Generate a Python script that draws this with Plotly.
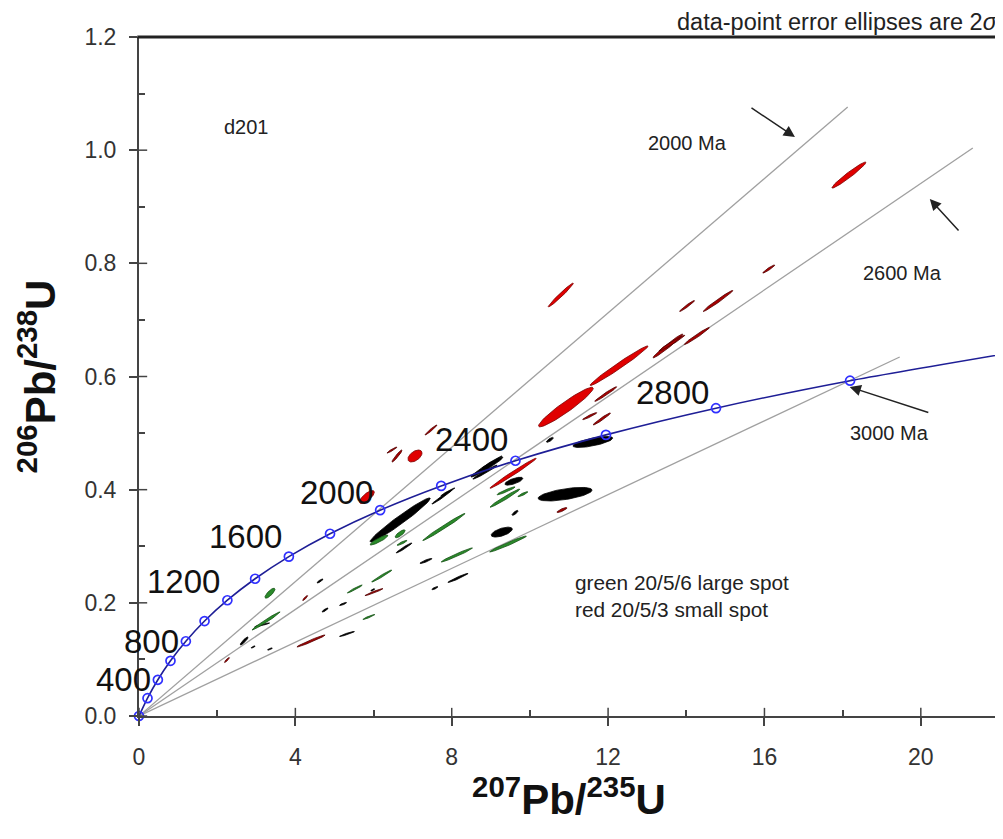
import numpy as np
import plotly.graph_objects as go

# ---- concordia (age markers every 200 Ma) ----
conc_age = [0, 200, 400, 600, 800, 1000, 1200, 1400, 1600, 1800, 2000, 2200, 2400, 2600, 2800, 3000, 3200]
conc_x = [0.0, 0.2177, 0.4828, 0.8056, 1.1987, 1.6774, 2.2603, 2.970, 3.834, 4.887, 6.169, 7.730, 9.630, 11.945, 14.76, 18.19, 22.37]
conc_y = [0.0, 0.0315, 0.0640, 0.0975, 0.1321, 0.1678, 0.2046, 0.2426, 0.2817, 0.3221, 0.3638, 0.4067, 0.4511, 0.4968, 0.5440, 0.5926, 0.6427]
label_ages = [400, 800, 1200, 1600, 2000, 2400, 2800]

# ---- reference (discordia) lines from origin: end points ----
ref_x_end = [18.13, 21.33, 19.46]
ref_y_end = [1.0764, 1.0039, 0.6345]

# ---- axis ticks ----
x_major = [0, 4, 8, 12, 16, 20]
x_minor = [2, 6, 10, 14, 18]
y_major = [0, 0.2, 0.4, 0.6, 0.8, 1.0, 1.2]
y_minor = [0.1, 0.3, 0.5, 0.7, 0.9, 1.1]

# ---- error ellipses: centre, half-extent x, half-extent y, correlation, group ----
ell_x = [18.16, 10.92, 12.28, 10.79, 9.57, 5.83, 7.06,
         16.11, 14.02, 14.81, 14.27, 13.53, 13.63, 11.94, 11.53, 11.84, 6.47, 6.60, 7.47, 10.82, 6.01, 4.40, 2.25, 4.25,
         6.68, 8.90, 8.85, 9.03, 7.75, 7.90, 9.28, 10.9, 11.61, 10.51, 9.59, 9.62, 6.78, 7.34, 8.16, 7.57, 4.63, 4.76, 5.22, 5.32, 3.15, 2.69, 3.35, 2.92, 5.98,
         6.14, 6.68, 6.73, 7.80, 8.13, 6.21, 5.52, 5.88, 9.44, 9.36, 9.39, 9.82, 3.35, 3.25]
ell_y = [0.956, 0.546, 0.619, 0.744, 0.429, 0.387, 0.4595,
         0.790, 0.7246, 0.7335, 0.6716, 0.654, 0.659, 0.569, 0.530, 0.525, 0.470, 0.4595, 0.5055, 0.364, 0.219, 0.1326, 0.099, 0.2085,
         0.3464, 0.440, 0.431, 0.449, 0.387, 0.396, 0.325, 0.392, 0.4843, 0.488, 0.415, 0.359, 0.297, 0.274, 0.244, 0.226, 0.2386, 0.1873, 0.198, 0.145, 0.161, 0.1326, 0.1184, 0.122, 0.223,
         0.311, 0.322, 0.306, 0.334, 0.2846, 0.2474, 0.2245, 0.175, 0.304, 0.385, 0.398, 0.392, 0.217, 0.168]
ell_sx = [0.435, 0.70, 0.74, 0.32, 0.59, 0.19, 0.18,
          0.153, 0.19, 0.38, 0.32, 0.38, 0.33, 0.28, 0.18, 0.22, 0.128, 0.128, 0.153, 0.128, 0.23, 0.36, 0.064, 0.064,
          0.77, 0.41, 0.31, 0.256, 0.256, 0.18, 0.27, 0.69, 0.51, 0.09, 0.23, 0.077, 0.2, 0.153, 0.256, 0.077, 0.077, 0.077, 0.09, 0.19, 0.19, 0.1, 0.06, 0.05, 0.05,
          0.23, 0.128, 0.128, 0.54, 0.40, 0.256, 0.19, 0.153, 0.47, 0.38, 0.23, 0.128, 0.128, 0.36]
ell_sy = [0.023, 0.035, 0.035, 0.021, 0.0265, 0.0115, 0.0106,
          0.0071, 0.0097, 0.0186, 0.015, 0.021, 0.014, 0.013, 0.0062, 0.0106, 0.0053, 0.0106, 0.0088, 0.0044, 0.0062, 0.0106, 0.0044, 0.0044,
          0.039, 0.0177, 0.0124, 0.0106, 0.0124, 0.007, 0.0088, 0.012, 0.0097, 0.0044, 0.007, 0.0044, 0.0088, 0.0044, 0.008, 0.0027, 0.0035, 0.0035, 0.0027, 0.0044, 0.0035, 0.007, 0.002, 0.002, 0.002,
          0.0088, 0.007, 0.0044, 0.0239, 0.0124, 0.0106, 0.007, 0.0044, 0.0141, 0.016, 0.007, 0.0044, 0.0088, 0.016]
ell_rho = [0.97, 0.95, 0.985, 0.98, 0.99, 0.75, 0.5,
           0.95, 0.97, 0.985, 0.98, 0.98, 0.98, 0.98, 0.95, 0.97, 0.95, 0.95, 0.97, 0.85, 0.97, 0.98, 0.9, 0.9,
           0.975, 0.97, 0.98, 0.99, 0.985, 0.98, 0.6, 0.6, 0.7, 0.8, 0.7, 0.8, 0.97, 0.9, 0.97, 0.8, 0.85, 0.85, 0.85, 0.95, 0.95, 0.9, 0.8, 0.8, 0.8,
           0.9, 0.8, 0.9, 0.99, 0.98, 0.98, 0.97, 0.95, 0.98, 0.98, 0.95, 0.9, 0.8, 0.985]
ell_group = ["r"] * 7 + ["d"] * 17 + ["k"] * 25 + ["g"] * 14

group_style = {
    "r": ("#e00000", "#7a0000"),
    "d": ("#a80000", "#500000"),
    "k": ("#000000", "#000000"),
    "g": ("#2a8a2a", "#145214"),
}

FONT = "Arial, Liberation Sans, sans-serif"
AX = "#444"
fig = go.Figure()

# reference lines
for xe, ye in zip(ref_x_end, ref_y_end):
    fig.add_trace(go.Scatter(x=[0, xe], y=[0, ye], mode="lines",
                             line=dict(color="#a0a0a0", width=1.3), hoverinfo="skip"))

# ellipses
t = np.linspace(0, 2 * np.pi, 72)
for g, (fc, lc) in group_style.items():
    xs, ys = [], []
    for cx, cy, sx, sy, r, gg in zip(ell_x, ell_y, ell_sx, ell_sy, ell_rho, ell_group):
        if gg != g:
            continue
        ex = cx + sx * np.cos(t)
        ey = cy + sy * (r * np.cos(t) + np.sqrt(1 - r * r) * np.sin(t))
        xs += list(ex) + [None]
        ys += list(ey) + [None]
    fig.add_trace(go.Scatter(x=xs, y=ys, mode="lines", fill="toself", fillcolor=fc,
                             line=dict(color=lc, width=0.8), hoverinfo="skip"))

# concordia
fig.add_trace(go.Scatter(x=conc_x, y=conc_y, mode="lines",
                         line=dict(color="#1e1e96", width=1.6, shape="spline", smoothing=0.6),
                         hoverinfo="skip"))
fig.add_trace(go.Scatter(x=conc_x, y=conc_y, mode="markers", cliponaxis=False,
                         marker=dict(symbol="circle-open", size=9, color="#3030ff", line=dict(width=1.7)),
                         hoverinfo="skip"))

# age labels
yshifts = [0, 0, 19, 20, 18, 21, 16]
for a, ys in zip(label_ages, yshifts):
    i = conc_age.index(a)
    fig.add_annotation(x=conc_x[i], y=conc_y[i], text=str(a), showarrow=False,
                       xanchor="right", yanchor="middle", xshift=-5, yshift=ys,
                       font=dict(family=FONT, size=33, color="#111"))

# text annotations
def txt(x, y, s, size=20, anchor="center"):
    fig.add_annotation(x=x, y=y, text=s, showarrow=False, xanchor=anchor, yanchor="middle",
                       font=dict(family=FONT, size=size, color="#222"))

txt(14.02, 1.0127, "2000 Ma")
txt(19.54, 0.783, "2600 Ma")
txt(19.21, 0.5002, "3000 Ma")
txt(2.74, 1.041, "d201")
txt(11.10, 0.2368, "green 20/5/6 large spot", size=20.8, anchor="left")
txt(11.10, 0.189, "red 20/5/3 small spot", size=20.8, anchor="left")

fig.add_annotation(xref="paper", yref="paper", x=1.001, y=1.0225, xanchor="right", yanchor="middle",
                   text="data-point error ellipses are 2<i>σ</i>", showarrow=False,
                   font=dict(family=FONT, size=23.5, color="#222"))

# arrows
for (hx, hy, tx, ty) in [(16.78, 1.0233, 15.63, 1.0764), (20.23, 0.9137, 21.0, 0.8554), (18.18, 0.5815, 20.23, 0.5355)]:
    fig.add_annotation(x=hx, y=hy, ax=tx, ay=ty, xref="x", yref="y", axref="x", ayref="y",
                       text="", showarrow=True, arrowhead=2, arrowsize=1.5, arrowwidth=1.5,
                       arrowcolor="#222")

# inner half of major ticks (ticks cross the axis line)
for v in x_major:
    fig.add_shape(type="line", xref="x", yref="y domain", x0=v, x1=v, y0=0, y1=0.012,
                  line=dict(color=AX, width=1.5))
for v in y_major:
    fig.add_shape(type="line", xref="x domain", yref="y", x0=0, x1=0.0095, y0=v, y1=v,
                  line=dict(color=AX, width=1.5))
# frame: heavy top edge, light right edge
fig.add_shape(type="line", xref="paper", yref="paper", x0=-0.002, x1=1, y0=1, y1=1,
              line=dict(color="#222", width=3))
fig.add_shape(type="line", xref="paper", yref="paper", x0=0.998, x1=0.998, y0=0, y1=1,
              line=dict(color="#777", width=1.5))

axis_common = dict(showgrid=False, zeroline=False, showline=True, linewidth=2, linecolor=AX,
                   mirror=False, ticks="outside", ticklen=8, tickwidth=1.5, tickcolor=AX,
                   automargin=False,
                   tickfont=dict(family=FONT, size=23, color="#333"))

# page body has an 8 px margin: figure is sized/offset so the plot sits where the reference has it
fig.update_layout(
    width=995, height=823,
    margin=dict(l=131, r=4, t=29, b=115, autoexpand=False),
    paper_bgcolor="white", plot_bgcolor="white",
    showlegend=False,
    xaxis=dict(range=[0, 22], tickvals=x_major, ticklabelstandoff=11,
               minor=dict(tickvals=x_minor, ticks="inside", ticklen=6, tickwidth=1.5, tickcolor=AX),
               title=dict(text="<b><sup>207</sup>Pb/<sup>235</sup>U</b>", standoff=12,
                          font=dict(family=FONT, size=42, color="#111")),
               **axis_common),
    yaxis=dict(range=[0, 1.2], tickvals=y_major, tickformat=".1f", ticklabelstandoff=8,
               minor=dict(tickvals=y_minor, ticks="inside", ticklen=6, tickwidth=1.5, tickcolor=AX),
               title=dict(text="<b><sup>206</sup>Pb/<sup>238</sup>U</b>", standoff=16,
                          font=dict(family=FONT, size=42, color="#111")),
               **axis_common),
)

fig.write_html("out.html")
